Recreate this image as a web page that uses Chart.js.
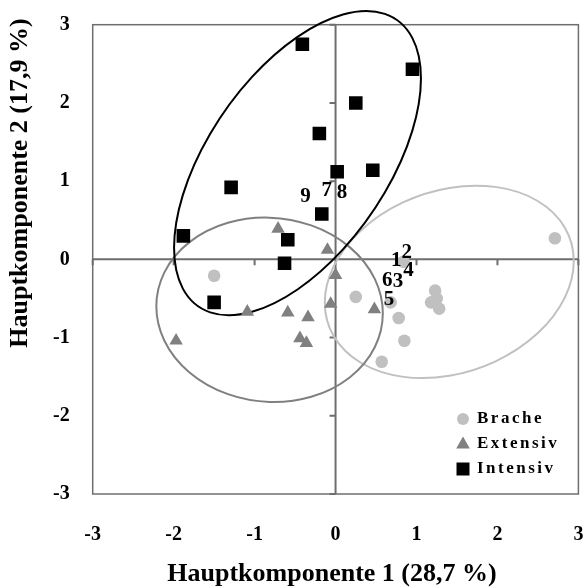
<!DOCTYPE html>
<html>
<head>
  <title>Hauptkomponentenanalyse</title>
  <script src="https://cdn.jsdelivr.net/npm/chart.js"></script>
  <style>
    html, body { margin: 0; padding: 0; background: #fff; }
    #wrap { width: 588px; height: 588px; }
  </style>
</head>
<body>
  <div id="wrap"><canvas id="pcaChart"></canvas></div>
  <script>
    // scores on the first two principal components
    var bracheX = [2.71, -1.50, 0.25, 1.23, 1.25, 1.18, 1.28, 0.78, 0.85, 0.57, 0.84, 0.68];
    var bracheY = [0.27, -0.21, -0.48, -0.40, -0.50, -0.55, -0.63, -0.75, -1.04, -1.31, -0.03, -0.55];

    var extensivX = [-0.71, -0.10, 0.00, -0.06, 0.48, -1.09, -0.59, -0.34, -0.44, -0.36, -1.97];
    var extensivY = [0.39, 0.12, -0.20, -0.57, -0.64, -0.67, -0.68, -0.74, -1.01, -1.07, -1.04];

    var intensivX = [-0.41, 0.95, 0.25, -0.20, 0.02, 0.46, -1.29, -0.17, -1.88, -0.59, -0.63, -1.50];
    var intensivY = [2.75, 2.43, 2.00, 1.61, 1.12, 1.14, 0.92, 0.58, 0.30, 0.25, -0.05, -0.55];

    // site numbers written into the plot
    var siteLabels = ['1', '2', '3', '4', '5', '6', '7', '8', '9'];
    var siteX = [0.75, 0.88, 0.77, 0.90, 0.66, 0.64, -0.11, 0.08, -0.37];
    var siteY = [-0.01, 0.09, -0.29, -0.14, -0.52, -0.27, 0.88, 0.86, 0.80];

    // group ellipses: centre and two conjugate half-axes, in score units
    var ellipseNames = ['Brache', 'Extensiv', 'Intensiv'];
    var ellipseCenter = [[1.405, -0.288], [-0.815, -0.645], [-0.47, 1.23]];
    var ellipseAxisP = [[1.538, 0.266], [1.399, -0.045], [1.525, 1.083]];
    var ellipseAxisQ = [[0, 1.201], [0, 1.178], [0, 1.615]];

    var axisTicks = [-3, -2, -1, 0, 1, 2, 3];

    var groupColors = ['#c0c0c0', '#808080', '#000000'];
    var serif = "'Liberation Serif', 'Times New Roman', serif";

    function toPoints(xs, ys) {
      return xs.map(function (v, i) { return { x: v, y: ys[i] }; });
    }

    // frame, axes through the origin and the group ellipses
    var backdrop = {
      id: 'backdrop',
      beforeDatasetsDraw: function (chart) {
        var ctx = chart.ctx, a = chart.chartArea;
        var xs = chart.scales.x, ys = chart.scales.y;
        var x0 = xs.getPixelForValue(0), y0 = ys.getPixelForValue(0);
        ctx.save();
        ctx.strokeStyle = '#6e6e6e';
        ctx.lineWidth = 1.5;
        ctx.strokeRect(a.left, a.top, a.right - a.left, a.bottom - a.top);

        ctx.lineWidth = 2;
        ctx.beginPath();
        ctx.moveTo(a.left, y0); ctx.lineTo(a.right, y0);
        ctx.moveTo(x0, a.top); ctx.lineTo(x0, a.bottom);
        axisTicks.forEach(function (t) {
          var px = xs.getPixelForValue(t), py = ys.getPixelForValue(t);
          ctx.moveTo(px, y0); ctx.lineTo(px, y0 + 6);
          ctx.moveTo(x0, py); ctx.lineTo(x0 - 6, py);
        });
        ctx.stroke();

        var sx = xs.getPixelForValue(1) - x0;
        var sy = ys.getPixelForValue(1) - y0;
        ellipseNames.forEach(function (name, i) {
          var c = ellipseCenter[i], p = ellipseAxisP[i], q = ellipseAxisQ[i];
          ctx.save();
          ctx.beginPath();
          ctx.transform(p[0] * sx, p[1] * sy, q[0] * sx, q[1] * sy,
                        xs.getPixelForValue(c[0]), ys.getPixelForValue(c[1]));
          ctx.arc(0, 0, 1, 0, Math.PI * 2);
          ctx.restore();
          ctx.strokeStyle = groupColors[i];
          ctx.lineWidth = 2;
          ctx.stroke();
        });
        ctx.restore();
      },
      afterDatasetsDraw: function (chart) {
        var ctx = chart.ctx;
        var xs = chart.scales.x, ys = chart.scales.y;
        ctx.save();
        ctx.fillStyle = '#000';
        ctx.font = 'bold 21px ' + serif;
        ctx.textAlign = 'center';
        ctx.textBaseline = 'middle';
        siteLabels.forEach(function (s, i) {
          ctx.fillText(s, xs.getPixelForValue(siteX[i]), ys.getPixelForValue(siteY[i]));
        });
        ctx.restore();
      },
      afterDraw: function (chart) {
        var ctx = chart.ctx, a = chart.chartArea;
        ctx.save();
        ctx.fillStyle = '#000';
        ctx.font = 'bold 26px ' + serif;
        ctx.textAlign = 'center';
        ctx.textBaseline = 'middle';
        ctx.fillText('Hauptkomponente 1 (28,7 %)', 332, 574);
        ctx.translate(20, 183);
        ctx.rotate(-Math.PI / 2);
        ctx.fillText('Hauptkomponente 2 (17,9 %)', 0, 0);
        ctx.restore();

        // legend in the lower right corner
        var lx = 463, ly = [419, 444, 469];
        ctx.save();
        ctx.font = 'bold 17px ' + serif;
        ctx.letterSpacing = '2.5px';
        ctx.textBaseline = 'middle';
        ctx.textAlign = 'left';
        ellipseNames.forEach(function (name, i) {
          var y = ly[i];
          ctx.fillStyle = groupColors[i];
          ctx.beginPath();
          if (i === 0) {
            ctx.arc(lx, y, 6, 0, Math.PI * 2);
          } else if (i === 1) {
            ctx.moveTo(lx, y - 7.5); ctx.lineTo(lx + 6.8, y + 4.5); ctx.lineTo(lx - 6.8, y + 4.5);
            ctx.closePath();
          } else {
            ctx.rect(lx - 6.5, y - 6.5, 13, 13);
          }
          ctx.fill();
          ctx.fillStyle = '#000';
          ctx.fillText(name, lx + 14, y);
        });
        ctx.restore();
      }
    };

    var tickFont = { family: serif, size: 20, weight: 'bold' };

    new Chart(document.getElementById('pcaChart'), {
      type: 'scatter',
      data: {
        datasets: [
          { label: 'Brache', data: toPoints(bracheX, bracheY), pointStyle: 'circle',
            pointRadius: 6.3, backgroundColor: groupColors[0], borderColor: groupColors[0], borderWidth: 0 },
          { label: 'Extensiv', data: toPoints(extensivX, extensivY), pointStyle: 'triangle',
            pointRadius: 7.8, backgroundColor: groupColors[1], borderColor: groupColors[1], borderWidth: 0 },
          { label: 'Intensiv', data: toPoints(intensivX, intensivY), pointStyle: 'rect',
            pointRadius: 9.6, backgroundColor: groupColors[2], borderColor: groupColors[2], borderWidth: 0 }
        ]
      },
      options: {
        responsive: true,
        maintainAspectRatio: false,
        animation: false,
        events: [],
        layout: { padding: { left: 0, top: 24.7, right: 7.3, bottom: 0 } },
        plugins: { legend: { display: false }, tooltip: { enabled: false } },
        scales: {
          x: {
            type: 'linear', min: -3, max: 3,
            afterFit: function (s) { s.height = 94; s.paddingLeft = 0; s.paddingRight = 0; },
            afterBuildTicks: function (s) { s.ticks = axisTicks.map(function (v) { return { value: v }; }); },
            grid: { display: false, drawTicks: false },
            border: { display: false },
            ticks: { font: tickFont, color: '#000', padding: 29, maxRotation: 0 }
          },
          y: {
            type: 'linear', min: -3, max: 3,
            afterFit: function (s) { s.width = 92.7; s.paddingTop = 0; s.paddingBottom = 0; },
            afterBuildTicks: function (s) { s.ticks = axisTicks.map(function (v) { return { value: v }; }); },
            grid: { display: false, drawTicks: false },
            border: { display: false },
            ticks: { font: tickFont, color: '#000', padding: 23 }
          }
        }
      },
      plugins: [backdrop]
    });
  </script>
</body>
</html>
